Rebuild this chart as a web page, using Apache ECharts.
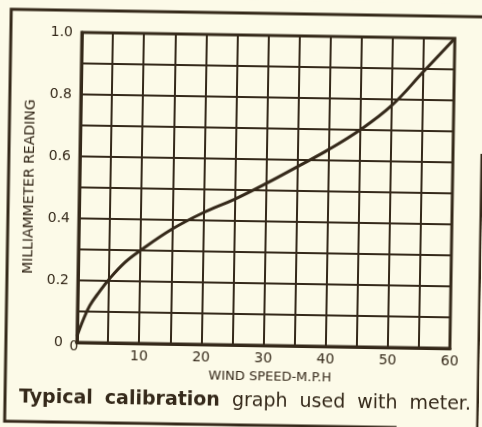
<!DOCTYPE html>
<html>
<head>
<meta charset="utf-8">
<script src="https://cdn.jsdelivr.net/npm/echarts@6/dist/echarts.min.js"></script>
<style>
  html, body { margin: 0; padding: 0; background: #fcfae8; overflow: hidden; }
  #chart {
    position: absolute; left: 0; top: 0; width: 482px; height: 427px;
    transform: rotate(0.92deg); transform-origin: 50% 50%;
  }
</style>
</head>
<body>
<div id="chart"></div>
<script>
// Wind speed (m.p.h.) and the matching milliammeter reading along the calibration curve
var windSpeed = [0, 1, 2, 3.5, 5, 7.5, 10, 15, 20, 25, 30, 35, 40, 45, 50, 55, 60];
var reading   = [0.02, 0.075, 0.12, 0.165, 0.205, 0.26, 0.30, 0.37, 0.425, 0.47, 0.522, 0.578, 0.635, 0.70, 0.78, 0.89, 1.0];

// Tick labels printed along the axes
var xTickLabels = ['0', '10', '20', '30', '40', '50', '60'];
var yTickLabels = ['0', '0.2', '0.4', '0.6', '0.8', '1.0'];

var ink = '#35291a';
var paper = '#fcfae8';
var font = 'DejaVu Sans';

var points = windSpeed.map(function (s, i) { return [s, reading[i]]; });

function xLabel(v) {
  var s = String(Math.round(v));
  return (v !== 0 && xTickLabels.indexOf(s) >= 0) ? s : '';
}
function yLabel(v) {
  var r = Math.round(v * 10) / 10;
  var s = r === 0 ? '0' : r.toFixed(1);
  if (yTickLabels.indexOf(s) < 0) return '';
  return r === 0 ? '{z|' + s + '}' : s;
}

var chart = echarts.init(document.getElementById('chart'), null, { renderer: 'canvas' });
chart.setOption({
  backgroundColor: paper,
  animation: false,
  grid: {
    left: 79, top: 35, right: 30, bottom: 82,
    show: true, borderColor: ink, borderWidth: 3, backgroundColor: 'transparent'
  },
  xAxis: [{
    type: 'value', min: 0, max: 60, interval: 5,
    name: 'WIND SPEED-M.P.H', nameLocation: 'middle', nameGap: 21,
    nameTextStyle: { color: ink, fontFamily: font, fontSize: 13, padding: [0, 0, 0, 14] },
    axisLine: { show: true, lineStyle: { color: ink, width: 3 } },
    axisTick: { show: false },
    splitLine: { show: true, lineStyle: { color: ink, width: 2 } },
    axisLabel: { color: ink, fontFamily: font, fontSize: 14, margin: 6, formatter: xLabel }
  }, {
    // the origin label sits tucked up under the corner
    type: 'value', min: 0, max: 60, interval: 5, position: 'bottom',
    axisLine: { show: false }, axisTick: { show: false }, splitLine: { show: false },
    axisLabel: {
      color: ink, fontFamily: font, fontSize: 14, margin: -3,
      formatter: function (v) { return v === 0 ? '{z|0}' : ''; },
      rich: { z: { color: ink, fontFamily: font, fontSize: 14, padding: [0, 6, 0, 0] } }
    }
  }],
  yAxis: {
    type: 'value', min: 0, max: 1, interval: 0.1,
    name: 'MILLIAMMETER READING', nameLocation: 'middle', nameGap: 36,
    nameTextStyle: { color: ink, fontFamily: font, fontSize: 14 },
    axisLine: { show: true, lineStyle: { color: ink, width: 3 } },
    axisTick: { show: false },
    splitLine: { show: true, lineStyle: { color: ink, width: 2 } },
    axisLabel: {
      color: ink, fontFamily: font, fontSize: 14, margin: 9, formatter: yLabel,
      rich: { z: { color: ink, fontFamily: font, fontSize: 14, padding: [0, 5, 0, 0] } }
    }
  },
  series: [{
    type: 'line', data: points, smooth: 0.4, symbol: 'none',
    lineStyle: { color: ink, width: 3 }, z: 5
  }],
  graphic: [
    // border around the whole figure
    { type: 'polyline', shape: { points: [[482, 13], [8, 13], [8, 425], [400, 425]] },
      style: { stroke: ink, lineWidth: 3, fill: null } },
    { type: 'line', shape: { x1: 481, y1: 150, x2: 481, y2: 427 },
      style: { stroke: ink, lineWidth: 3 } },
    {
      type: 'text', left: 22, top: 392,
      style: {
        text: '{b|Typical}{sp| }{b|calibration}{sp| }{r|graph}{sp| }{r|used}{sp| }{r|with}{sp| }{r|meter.}',
        rich: {
          b: { fontFamily: font, fontWeight: 'bold', fontSize: 19, fill: ink },
          r: { fontFamily: font, fontSize: 19, fill: ink },
          sp: { fontFamily: font, fontSize: 19, width: 12 }
        }
      }
    }
  ]
});
</script>
</body>
</html>
